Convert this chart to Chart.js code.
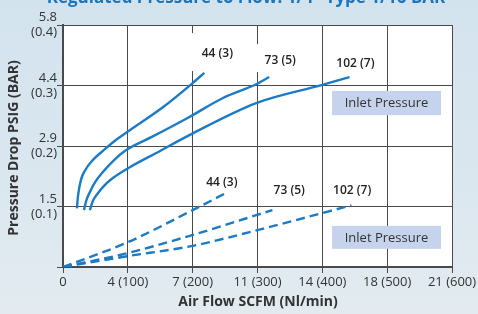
<!DOCTYPE html>
<html>
<head>
<meta charset="utf-8">
<script src="https://cdn.jsdelivr.net/npm/chart.js@4/dist/chart.umd.min.js"></script>
<style>
  html, body { margin: 0; padding: 0; }
  body {
    width: 478px; height: 314px; overflow: hidden;
    background: linear-gradient(180deg, #d3e3ee 0%, #dbe7ef 60%, #e3ebf0 100%);
  }
  #wrap { position: relative; width: 478px; height: 314px; }
</style>
</head>
<body>
<div id="wrap"><canvas id="flowChart" width="478" height="314"></canvas></div>
<script>
// Air flow in Nl/min (x) vs pressure drop in bar (y)
const xTickLabels = ['0', '4 (100)', '7 (200)', '11 (300)', '14 (400)', '18 (500)', '21 (600)'];
const yTickLabels = ['', ['1.5', '(0.1)'], ['2.9', '(0.2)'], ['4.4', '(0.3)'], ['5.8', '(0.4)']];

// Regulated (solid) curves, by inlet pressure
const flow44 = [21.5, 23.1, 27.7, 35.4, 46.2, 61.5, 81.5, 103, 154, 200, 218];
const drop44 = [0.097, 0.117, 0.144, 0.162, 0.177, 0.192, 0.210, 0.226, 0.264, 0.304, 0.321];
const flow73 = [32.3, 36, 41.5, 50, 61.5, 78, 96.9, 137, 195, 246, 298, 318];
const drop73 = [0.094, 0.110, 0.124, 0.141, 0.157, 0.176, 0.193, 0.215, 0.248, 0.279, 0.302, 0.314];
const flow102 = [41.5, 46, 53.8, 64, 76.9, 103, 143, 195, 298, 400, 442];
const drop102 = [0.094, 0.109, 0.122, 0.135, 0.147, 0.165, 0.188, 0.218, 0.271, 0.301, 0.314];

// Inlet pressure (dashed) curves
const inFlow44 = [0, 100, 200, 249];
const inDrop44 = [0, 0.041, 0.094, 0.121];
const inFlow73 = [0, 100, 200, 323];
const inDrop73 = [0, 0.023, 0.053, 0.094];
const inFlow102 = [0, 100, 200, 300, 445];
const inDrop102 = [0, 0.018, 0.035, 0.061, 0.102];

const curveLabels = ['44 (3)', '73 (5)', '102 (7)'];
const boxLabel = 'Inlet Pressure';

const blue = '#1b7bc4';
const toPts = (xs, ys) => xs.map((x, i) => ({ x: x, y: ys[i] }));

function curve(xs, ys, dashed) {
  return {
    data: toPts(xs, ys),
    showLine: true,
    borderColor: blue,
    borderWidth: 2.4,
    borderDash: dashed ? [9, 5] : [],
    pointRadius: 0,
    fill: false,
    cubicInterpolationMode: 'monotone'
  };
}

// white plot area, annotations and titles
const decor = {
  id: 'decor',
  beforeDraw(chart) {
    const a = chart.chartArea, c = chart.ctx;
    c.save();
    c.fillStyle = '#ffffff';
    c.fillRect(a.left, a.top, a.right - a.left, a.bottom - a.top);
    c.restore();
  },
  afterDatasetsDraw(chart) {
    const c = chart.ctx, xs = chart.scales.x, ys = chart.scales.y;
    c.save();
    c.font = '600 12px "Open Sans"';
    c.textAlign = 'center';
    c.textBaseline = 'middle';
    // [label index, x value, y value, bg width, bg height]
    const notes = [
      [0, 238, 0.352, 52, 38],
      [1, 335, 0.342, 48, 28],
      [2, 451, 0.337, 48, 22],
      [0, 245, 0.139, 0, 0],
      [1, 349, 0.127, 0, 0],
      [2, 446, 0.127, 0, 0]
    ];
    notes.forEach(n => {
      const px = xs.getPixelForValue(n[1]), py = ys.getPixelForValue(n[2]);
      if (n[3]) {
        c.fillStyle = '#ffffff';
        c.fillRect(px - n[3] / 2 - 2, py - n[4] / 2 - 2, n[3], n[4]);
      }
      c.fillStyle = '#222222';
      c.fillText(curveLabels[n[0]], px, py);
    });
    // inlet pressure boxes
    [[0.291, 0.251], [0.068, 0.030]].forEach(b => {
      const x1 = xs.getPixelForValue(415), x2 = xs.getPixelForValue(583);
      const y1 = ys.getPixelForValue(b[0]), y2 = ys.getPixelForValue(b[1]);
      c.fillStyle = '#c6d3ec';
      c.fillRect(x1, y1, x2 - x1, y2 - y1);
      c.fillStyle = '#333333';
      c.font = '13px "Open Sans"';
      c.fillText(boxLabel, (x1 + x2) / 2, (y1 + y2) / 2 + 0.5);
    });
    // axis titles
    c.fillStyle = '#333333';
    c.font = 'bold 14px "Open Sans"';
    c.fillText('Air Flow SCFM (Nl/min)', 258, 302);
    c.translate(14, 148);
    c.rotate(-Math.PI / 2);
    c.fillText('Pressure Drop PSIG (BAR)', 0, 0);
    c.restore();
    // clipped chart title
    c.save();
    c.fillStyle = '#1b75bc';
    c.font = 'bold 17px "Open Sans"';
    c.textAlign = 'center';
    c.textBaseline = 'alphabetic';
    c.fillText('Regulated Pressure to Flow: 1/4" Type 1/16 BAR', 246, 3);
    c.restore();
  }
};

const ctx = document.getElementById('flowChart').getContext('2d');
const flowChart = new Chart(ctx, {
  type: 'scatter',
  data: {
    datasets: [
      curve(flow44, drop44, false),
      curve(flow73, drop73, false),
      curve(flow102, drop102, false),
      curve(inFlow44, inDrop44, true),
      curve(inFlow73, inDrop73, true),
      curve(inFlow102, inDrop102, true)
    ]
  },
  options: {
    responsive: false,
    animation: false,
    layout: { padding: { top: 25, right: 26, left: 0, bottom: 0 } },
    plugins: { legend: { display: false }, tooltip: { enabled: false } },
    scales: {
      x: {
        type: 'linear', min: 0, max: 600,
        afterFit(s) { s.height = 47; },
        ticks: {
          stepSize: 100, padding: 1, color: '#333',
          font: { family: 'Open Sans', size: 13 },
          maxRotation: 0,
          callback: (v, i) => xTickLabels[i]
        },
        grid: { color: '#4a4a4a', lineWidth: 1, tickLength: 6 },
        border: { color: '#4a4a4a', width: 2 }
      },
      y: {
        type: 'linear', min: 0, max: 0.4,
        afterFit(s) { s.width = 63; },
        ticks: {
          stepSize: 0.1, padding: 0, color: '#333',
          font: { family: 'Open Sans', size: 13, lineHeight: 1.15 },
          callback: (v, i) => yTickLabels[i]
        },
        grid: { color: '#4a4a4a', lineWidth: 1, tickLength: 6 },
        border: { color: '#4a4a4a', width: 2 }
      }
    }
  },
  plugins: [decor]
});
</script>
</body>
</html>
